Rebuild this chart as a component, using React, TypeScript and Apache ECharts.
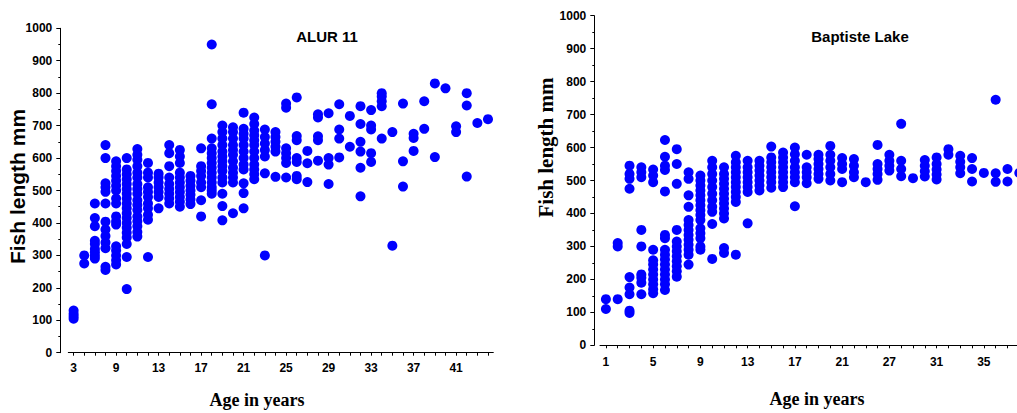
import React, { useEffect, useRef } from "react";
import * as echarts from "echarts";

// ---------- Left panel: ALUR 11 ----------
const leftTitle = "ALUR 11";
const leftAges = [3, 6, 7, 8, 9, 10, 11, 12, 13, 14, 15, 16, 17, 18, 19, 20, 21, 22, 23, 24, 25, 26, 27, 28, 29, 30, 31, 32, 33, 34, 35, 36, 37, 38, 39, 40, 41, 42, 43, 44];
const leftLengths: number[][] = [
  [105, 112, 120, 130],
  [275, 300],
  [290, 300, 310, 320, 335, 345, 390, 415, 460],
  [255, 265, 322, 340, 360, 380, 404, 460, 496, 510, 522, 600, 640],
  [272, 285, 300, 315, 328, 395, 405, 420, 460, 475, 500, 515, 530, 545, 560, 575, 590],
  [196, 295, 335, 355, 370, 385, 400, 415, 430, 445, 460, 475, 490, 505, 520, 535, 550, 565, 600],
  [358, 372, 390, 405, 420, 440, 455, 470, 490, 505, 520, 540, 555, 575, 595, 610, 628],
  [295, 410, 425, 445, 460, 480, 495, 510, 540, 555, 585],
  [445, 480, 495, 510, 525, 540, 552],
  [460, 475, 490, 505, 520, 540, 575, 615, 640],
  [450, 465, 480, 495, 510, 525, 540, 555, 585, 605, 625],
  [458, 472, 487, 500, 515, 530, 545],
  [420, 470, 510, 525, 545, 560, 575, 630],
  [490, 500, 510, 525, 540, 555, 570, 585, 600, 615, 630, 660, 766, 950],
  [408, 452, 490, 525, 540, 560, 575, 590, 605, 620, 640, 660, 680, 700],
  [430, 525, 540, 555, 570, 590, 610, 625, 640, 660, 680, 695],
  [445, 492, 522, 565, 580, 600, 620, 640, 660, 675, 690, 740],
  [535, 550, 565, 580, 600, 620, 640, 655, 670, 685, 705, 725],
  [300, 553, 605, 625, 645, 665, 688],
  [542, 620, 635, 650, 665, 680],
  [540, 585, 600, 615, 630, 755, 768],
  [535, 545, 588, 600, 655, 668, 787],
  [526, 584, 622],
  [592, 655, 667, 725, 735],
  [520, 580, 600, 738],
  [602, 660, 688, 766],
  [635, 730],
  [482, 570, 620, 650, 705, 760],
  [588, 615, 688, 700, 748],
  [660, 760, 775, 790, 800],
  [330, 680],
  [512, 590, 768],
  [622, 662, 675],
  [690, 775],
  [603, 830],
  [815],
  [680, 698],
  [543, 762, 800],
  [708],
  [720],
];

// ---------- Right panel: Baptiste Lake ----------
const rightTitle = "Baptiste Lake";
const rightAges = [1, 2, 3, 4, 5, 6, 7, 8, 9, 10, 11, 12, 13, 14, 15, 16, 17, 18, 19, 20, 21, 22, 23, 25, 27, 28, 29, 30, 31, 32, 33, 34, 35, 36, 37, 38];
const rightLengths: number[][] = [
  [110, 140],
  [140, 300, 310],
  [98, 105, 155, 175, 207, 475, 505, 520, 545],
  [155, 190, 205, 215, 300, 350, 510, 525, 540],
  [158, 170, 185, 200, 215, 230, 245, 258, 290, 495, 515, 533],
  [168, 185, 200, 215, 230, 245, 260, 275, 290, 325, 335, 467, 532, 545, 572, 623],
  [208, 225, 240, 255, 270, 285, 300, 315, 350, 490, 550, 595],
  [245, 275, 290, 305, 320, 335, 350, 365, 380, 420, 455, 505, 525],
  [290, 300, 325, 340, 355, 380, 395, 410, 425, 440, 455, 470, 485, 500, 515],
  [262, 368, 405, 420, 440, 460, 480, 500, 520, 540, 560],
  [280, 295, 385, 400, 415, 430, 445, 460, 475, 490, 505, 520, 540],
  [275, 435, 450, 465, 480, 495, 510, 525, 540, 555, 575],
  [370, 465, 480, 495, 510, 525, 540, 560],
  [470, 485, 500, 515, 530, 545, 560],
  [478, 495, 510, 525, 540, 555, 570, 603],
  [480, 495, 510, 525, 540, 555, 570, 585],
  [422, 495, 510, 525, 540, 560, 580, 600],
  [492, 510, 525, 540, 578],
  [505, 520, 535, 550, 565, 578],
  [500, 520, 540, 560, 578, 605],
  [495, 535, 550, 568],
  [510, 525, 545, 565],
  [495],
  [502, 520, 535, 550, 608],
  [530, 545, 560, 578],
  [513, 535, 560, 672],
  [507],
  [512, 528, 545, 562],
  [503, 518, 533, 550, 570],
  [578, 595],
  [522, 540, 557, 575],
  [497, 535, 568],
  [523],
  [496, 522, 745],
  [497, 535],
  [523],
];

const yMin = 0;
const yMax = 1000;
const yStep = 100;
const xAxisTitle = "Age in years";
const yAxisTitle = "Fish length mm";

const SANS = "'Liberation Sans', Arial, sans-serif";
const SERIF = "'Liberation Serif', 'Times New Roman', serif";

function toPoints(lengths: number[][]) {
  const pts: [number, number][] = [];
  lengths.forEach((col, i) => col.forEach((v) => pts.push([i, v])));
  return pts;
}

function xAxisCfg(gridIndex: number, ages: number[], margin: number) {
  return {
    type: "category",
    gridIndex,
    data: ages.map(String),
    boundaryGap: true,
    axisLine: { show: true, lineStyle: { color: "#000", width: 1 } },
    axisTick: { show: true, interval: 0, length: 3, alignWithLabel: true, lineStyle: { color: "#000" } },
    axisLabel: {
      interval: 3,
      margin,
      color: "#000",
      fontFamily: SANS,
      fontWeight: "bold",
      fontSize: 12,
    },
    splitLine: { show: false },
  };
}

function yAxisCfg(gridIndex: number, offset: number) {
  return {
    type: "value",
    gridIndex,
    min: yMin,
    max: yMax,
    interval: yStep,
    offset,
    axisLine: { show: true, lineStyle: { color: "#000", width: 1 } },
    axisTick: { show: true, length: 4, lineStyle: { color: "#000" } },
    minorTick: { show: true, splitNumber: 2, length: 2, lineStyle: { color: "#000" } },
    axisLabel: {
      margin: 8,
      color: "#000",
      fontFamily: SANS,
      fontWeight: "bold",
      fontSize: 12,
      formatter: (v: number) => String(v),
    },
    splitLine: { show: false },
  };
}

export default function App() {
  const ref = useRef<HTMLDivElement>(null);

  useEffect(() => {
    if (!ref.current) return;
    const chart = echarts.init(ref.current, undefined, { renderer: "svg" });
    chart.setOption({
      animation: false,
      backgroundColor: "#fff",
      grid: [
        { left: 68.3, top: 28.3, width: 425, height: 324.4, containLabel: false },
        { left: 600, top: 15.7, width: 425.2, height: 329.6, containLabel: false },
      ],
      xAxis: [xAxisCfg(0, leftAges, 9), xAxisCfg(1, rightAges, 11)],
      yAxis: [yAxisCfg(0, 8), yAxisCfg(1, 5.7)],
      series: [
        {
          type: "scatter",
          xAxisIndex: 0,
          yAxisIndex: 0,
          symbol: "circle",
          symbolSize: 10,
          itemStyle: { color: "#0000ff", opacity: 1 },
          data: toPoints(leftLengths),
        },
        {
          type: "scatter",
          xAxisIndex: 1,
          yAxisIndex: 1,
          symbol: "circle",
          symbolSize: 10,
          itemStyle: { color: "#0000ff", opacity: 1 },
          data: toPoints(rightLengths),
        },
      ],
      graphic: [
        {
          type: "text",
          x: 327,
          y: 36,
          style: { text: leftTitle, font: `bold 15px ${SANS}`, fill: "#000", textAlign: "center", textVerticalAlign: "middle" },
        },
        {
          type: "text",
          x: 860,
          y: 36.5,
          style: { text: rightTitle, font: `bold 15px ${SANS}`, fill: "#000", textAlign: "center", textVerticalAlign: "middle" },
        },
        {
          type: "text",
          x: 257,
          y: 400,
          style: { text: xAxisTitle, font: `bold 18px ${SERIF}`, fill: "#000", textAlign: "center", textVerticalAlign: "middle" },
        },
        {
          type: "text",
          x: 817,
          y: 399,
          style: { text: xAxisTitle, font: `bold 18px ${SERIF}`, fill: "#000", textAlign: "center", textVerticalAlign: "middle" },
        },
        {
          type: "text",
          x: 17.5,
          y: 186.5,
          rotation: Math.PI / 2,
          style: { text: yAxisTitle, font: `bold 21px ${SANS}`, fill: "#000", textAlign: "center", textVerticalAlign: "middle" },
        },
        {
          type: "text",
          x: 546,
          y: 147.5,
          rotation: Math.PI / 2,
          style: { text: yAxisTitle, font: `bold 21px ${SERIF}`, fill: "#000", textAlign: "center", textVerticalAlign: "middle" },
        },
      ],
    });
    return () => chart.dispose();
  }, []);

  return (
    <div style={{ position: "fixed", left: 0, top: 0, width: 1017, height: 413, background: "#fff", overflow: "hidden" }}>
      <div ref={ref} style={{ width: 1040, height: 413 }} />
    </div>
  );
}
